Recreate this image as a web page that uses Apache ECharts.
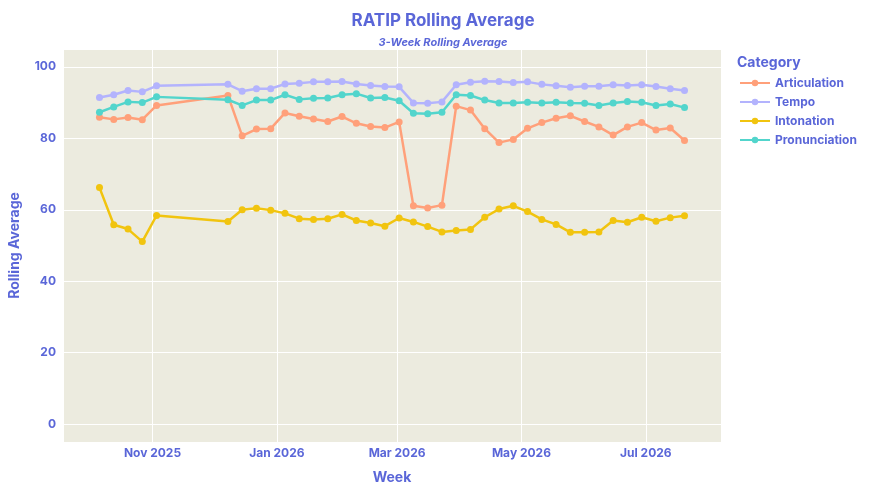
<!DOCTYPE html>
<html>
<head>
<meta charset="utf-8">
<script src="https://cdn.jsdelivr.net/npm/echarts@6/dist/echarts.min.js"></script>
<style>
  html, body { margin: 0; padding: 0; background: #fff; }
  #chart { width: 886px; height: 495px; }
</style>
</head>
<body>
<div id="chart"></div>
<script>
// 周数据（每周一）
var weeks = ['2025-10-06','2025-10-13','2025-10-20','2025-10-27','2025-11-03',
  '2025-12-08','2025-12-15','2025-12-22','2025-12-29','2026-01-05','2026-01-12',
  '2026-01-19','2026-01-26','2026-02-02','2026-02-09','2026-02-16','2026-02-23',
  '2026-03-02','2026-03-09','2026-03-16','2026-03-23','2026-03-30','2026-04-06',
  '2026-04-13','2026-04-20','2026-04-27','2026-05-04','2026-05-11','2026-05-18',
  '2026-05-25','2026-06-01','2026-06-08','2026-06-15','2026-06-22','2026-06-29',
  '2026-07-06','2026-07-13','2026-07-20'];

var articulation = [85.9, 85.3, 85.8, 85.2, 89.2, 92.0, 80.7, 82.6, 82.7, 87.1, 86.2, 85.4, 84.7,
  86.1, 84.2, 83.3, 83.0, 84.6, 61.1, 60.5, 61.3, 89.0, 87.9, 82.7, 78.8, 79.7, 82.8, 84.4,
  85.6, 86.3, 84.7, 83.2, 80.9, 83.2, 84.4, 82.3, 82.9, 79.4];
var tempo = [91.4, 92.2, 93.4, 93.0, 94.7, 95.1, 93.2, 93.9, 93.9, 95.2, 95.4, 95.8, 95.8,
  95.9, 95.2, 94.8, 94.5, 94.4, 89.9, 89.8, 90.2, 95.0, 95.7, 96.0, 95.9, 95.6, 95.8, 95.1,
  94.7, 94.3, 94.6, 94.6, 95.0, 94.8, 95.0, 94.5, 93.9, 93.4];
var intonation = [66.2, 55.8, 54.6, 51.1, 58.4, 56.7, 60.0, 60.4, 59.9, 59.0, 57.5, 57.3, 57.5,
  58.7, 57.0, 56.3, 55.4, 57.7, 56.6, 55.3, 53.8, 54.2, 54.5, 57.9, 60.2, 61.1, 59.5, 57.3,
  55.9, 53.7, 53.7, 53.8, 57.0, 56.5, 57.9, 56.8, 57.8, 58.3];
var pronunciation = [87.3, 88.8, 90.2, 90.0, 91.6, 90.8, 89.2, 90.7, 90.7, 92.2, 90.9, 91.2, 91.3,
  92.2, 92.5, 91.3, 91.4, 90.5, 87.0, 86.9, 87.3, 92.2, 92.0, 90.7, 89.9, 89.9, 90.1, 89.9,
  90.1, 89.9, 89.8, 89.2, 89.9, 90.3, 90.1, 89.2, 89.6, 88.6];

var seriesNames = ['Articulation', 'Tempo', 'Intonation', 'Pronunciation'];
var seriesData = [articulation, tempo, intonation, pronunciation];
var myColor = ['#ffa07a', '#b3b3fd', '#f1c40f', '#52d5cc'];
var monthNames = ['Jan','Feb','Mar','Apr','May','Jun','Jul','Aug','Sep','Oct','Nov','Dec'];

var textColor = '#5a66d8';
var fontName = 'Inter';

// 本地时间
function toTime(s) {
  var p = s.split('-');
  return new Date(+p[0], +p[1] - 1, +p[2]).getTime();
}
var DAY = 24 * 3600 * 1000;
var xMin = toTime(weeks[0]) - 17.9 * DAY;
var xMax = toTime(weeks[weeks.length - 1]) + 17.9 * DAY;

var myChart = echarts.init(document.getElementById('chart'));
var option = {
  animation: false,
  color: myColor,
  title: [{
    text: 'RATIP Rolling Average',
    left: 'center',
    top: 7,
    textStyle: { color: textColor, fontFamily: fontName, fontWeight: 'bold', fontSize: 17 }
  }, {
    text: '3-Week Rolling Average',
    left: 'center',
    top: 32,
    textStyle: { color: textColor, fontFamily: fontName, fontWeight: 'bold', fontStyle: 'italic', fontSize: 11 }
  }],
  graphic: [{
    type: 'text',
    left: 737,
    top: 56,
    style: { text: 'Category', fill: textColor, font: 'bold 14px Inter' }
  }],
  legend: {
    orient: 'vertical',
    left: 734,
    top: 72,
    itemWidth: 30,
    itemHeight: 8,
    itemGap: 7,
    textStyle: { color: textColor, fontFamily: fontName, fontWeight: 'bold', fontSize: 12 },
    data: seriesNames
  },
  grid: {
    left: 63,
    right: 165,
    top: 49,
    bottom: 53,
    outerBoundsMode: 'none',
    containLabel: false,
    show: true,
    backgroundColor: '#ecebdf',
    borderWidth: 0
  },
  xAxis: {
    type: 'time',
    min: xMin,
    max: xMax,
    splitNumber: 5,
    name: 'Week',
    nameLocation: 'middle',
    nameGap: 29,
    nameTextStyle: { color: textColor, fontFamily: fontName, fontWeight: 'bold', fontSize: 14 },
    axisLine: { show: false },
    axisTick: { show: false },
    axisLabel: {
      color: textColor,
      fontFamily: fontName,
      fontWeight: 'bold',
      fontSize: 12,
      margin: 5,
      hideOverlap: true,
      formatter: function (val) {
        var d = new Date(val);
        return monthNames[d.getMonth()] + ' ' + d.getFullYear();
      }
    },
    splitLine: { show: true, lineStyle: { color: '#ffffff', width: 1 } }
  },
  yAxis: {
    type: 'value',
    min: -5,
    max: 105,
    splitNumber: 5,
    name: 'Rolling Average',
    nameLocation: 'middle',
    nameGap: 41,
    nameTextStyle: { color: textColor, fontFamily: fontName, fontWeight: 'bold', fontSize: 14 },
    axisLine: { show: false },
    axisTick: { show: false },
    axisLabel: {
      color: textColor,
      fontFamily: fontName,
      fontWeight: 'bold',
      fontSize: 12,
      margin: 7,
      formatter: function (v) {
        return (Math.round(v) % 20 === 0 && Math.abs(v - Math.round(v)) < 1e-6) ? String(v) : '';
      }
    },
    splitLine: { lineStyle: { color: '#ffffff', width: 1 } }
  },
  series: seriesNames.map(function (name, i) {
    return {
      name: name,
      type: 'line',
      data: weeks.map(function (w, j) { return [toTime(w), seriesData[i][j]]; }),
      symbol: 'circle',
      symbolSize: 7,
      lineStyle: { width: 2.5 }
    };
  })
};
myChart.setOption(option);
</script>
</body>
</html>
